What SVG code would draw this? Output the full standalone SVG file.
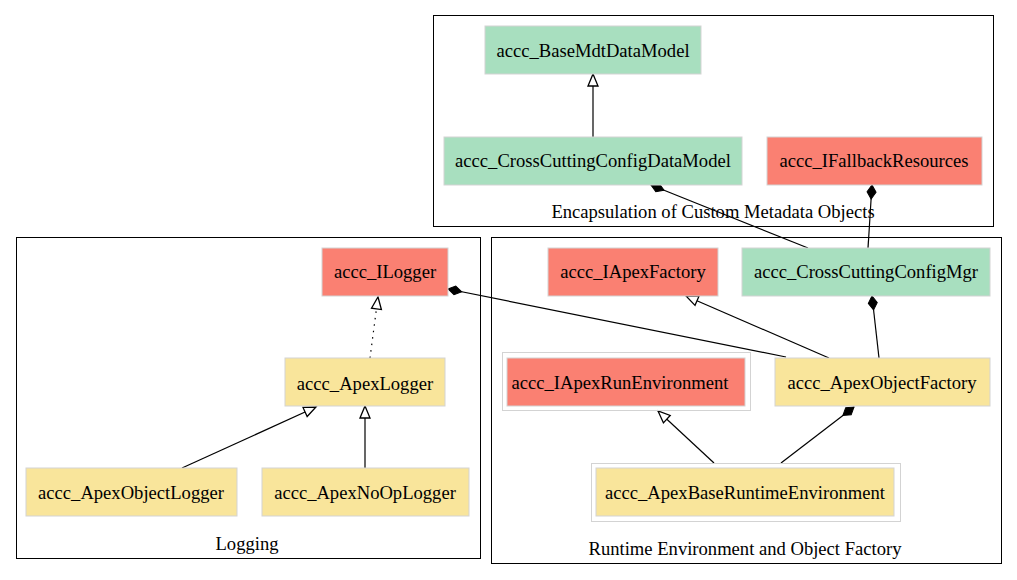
<svg xmlns="http://www.w3.org/2000/svg" width="1017" height="580" viewBox="0 0 1017 580">
  <style>
    text { font-family: "Liberation Serif", "Times New Roman", serif; font-size: 18.6px; fill: #000; text-anchor: middle; dominant-baseline: central; }
    .cluster { fill: none; stroke: #000; stroke-width: 1; }
    .node rect { stroke: #d3d3d3; stroke-width: 1; }
    .green { fill: #a8dfbf; }
    .red { fill: #fa8072; }
    .yellow { fill: #f9e59b; }
    .outer { fill: none; stroke: #d3d3d3; stroke-width: 1; }
    .edge { fill: none; stroke: #000; stroke-width: 1.2; }
    .inherit { marker-end: url(#tri); }
    .compose { marker-end: url(#diamond); }
    .dotted { stroke-dasharray: 1.5 5; }
  </style>
  <defs>
    <marker id="tri" markerUnits="userSpaceOnUse" markerWidth="16" markerHeight="14" viewBox="-1 -7 14 14" refX="12" refY="0" orient="auto">
      <path d="M0,-5 L12,0 L0,5 Z" fill="#fff" stroke="#000" stroke-width="1.3"/>
    </marker>
    <marker id="diamond" markerUnits="userSpaceOnUse" markerWidth="18" markerHeight="14" viewBox="-1 -7 16 14" refX="14" refY="0" orient="auto">
      <path d="M0,0 L7,-4.5 L14,0 L7,4.5 Z" fill="#000" stroke="#000" stroke-width="1"/>
    </marker>
  </defs>

  <rect width="1017" height="580" fill="#fff"/>

  <!-- clusters -->
  <g id="cluster-metadata">
    <rect class="cluster" x="433.5" y="15.5" width="560" height="211"/>
    <text x="713" y="211">Encapsulation of Custom Metadata Objects</text>
  </g>
  <g id="cluster-logging">
    <rect class="cluster" x="16.5" y="237.5" width="464" height="321"/>
    <text x="247" y="543">Logging</text>
  </g>
  <g id="cluster-runtime">
    <rect class="cluster" x="491.5" y="237.5" width="510" height="326"/>
    <text x="745" y="548">Runtime Environment and Object Factory</text>
  </g>

  <!-- connectors -->
  <g id="edges">
    <path class="edge inherit" d="M593,137 L593,74"/>
    <path class="edge compose" d="M808,248 L651,185"/>
    <path class="edge compose" d="M868,248 L872,185"/>
    <path class="edge inherit" d="M829,358 L686,296"/>
    <path class="edge compose" d="M786,357 L448,289"/>
    <path class="edge compose" d="M879,358 L872,296"/>
    <path class="edge inherit" d="M714,463 L658,411"/>
    <path class="edge compose" d="M781,463 L854,407"/>
    <path class="edge inherit dotted" d="M370,358 L378,297"/>
    <path class="edge inherit" d="M182,468 L316,407"/>
    <path class="edge inherit" d="M365,468 L365,406"/>
  </g>

  <!-- nodes -->
  <g id="node-BaseMdtDataModel" class="node">
    <rect class="green" x="485" y="26" width="216" height="48"/>
    <text x="593" y="50">accc_BaseMdtDataModel</text>
  </g>
  <g id="node-CrossCuttingConfigDataModel" class="node">
    <rect class="green" x="444" y="137" width="298" height="48"/>
    <text x="593" y="160">accc_CrossCuttingConfigDataModel</text>
  </g>
  <g id="node-IFallbackResources" class="node">
    <rect class="red" x="767" y="137" width="215" height="48"/>
    <text x="874" y="160">accc_IFallbackResources</text>
  </g>
  <g id="node-ILogger" class="node">
    <rect class="red" x="322" y="248" width="126" height="48"/>
    <text x="385" y="271">accc_ILogger</text>
  </g>
  <g id="node-ApexLogger" class="node">
    <rect class="yellow" x="285" y="358" width="160" height="48"/>
    <text x="365" y="383">accc_ApexLogger</text>
  </g>
  <g id="node-ApexObjectLogger" class="node">
    <rect class="yellow" x="26" y="468" width="211" height="48"/>
    <text x="131" y="492">accc_ApexObjectLogger</text>
  </g>
  <g id="node-ApexNoOpLogger" class="node">
    <rect class="yellow" x="262" y="468" width="207" height="48"/>
    <text x="365" y="492">accc_ApexNoOpLogger</text>
  </g>
  <g id="node-IApexFactory" class="node">
    <rect class="red" x="548" y="248" width="170" height="48"/>
    <text x="633" y="271">accc_IApexFactory</text>
  </g>
  <g id="node-CrossCuttingConfigMgr" class="node">
    <rect class="green" x="742" y="248" width="248" height="48"/>
    <text x="866" y="271">accc_CrossCuttingConfigMgr</text>
  </g>
  <g id="node-IApexRunEnvironment" class="node">
    <rect class="outer" x="502.5" y="352.5" width="248" height="58"/>
    <rect class="red" x="507" y="358" width="238" height="48"/>
    <text x="620" y="382">accc_IApexRunEnvironment</text>
  </g>
  <g id="node-ApexObjectFactory" class="node">
    <rect class="yellow" x="775" y="358" width="215" height="48"/>
    <text x="882" y="382">accc_ApexObjectFactory</text>
  </g>
  <g id="node-ApexBaseRuntimeEnvironment" class="node">
    <rect class="outer" x="591.5" y="463.5" width="309" height="58"/>
    <rect class="yellow" x="596" y="468" width="298" height="48"/>
    <text x="745" y="492">accc_ApexBaseRuntimeEnvironment</text>
  </g>
</svg>
